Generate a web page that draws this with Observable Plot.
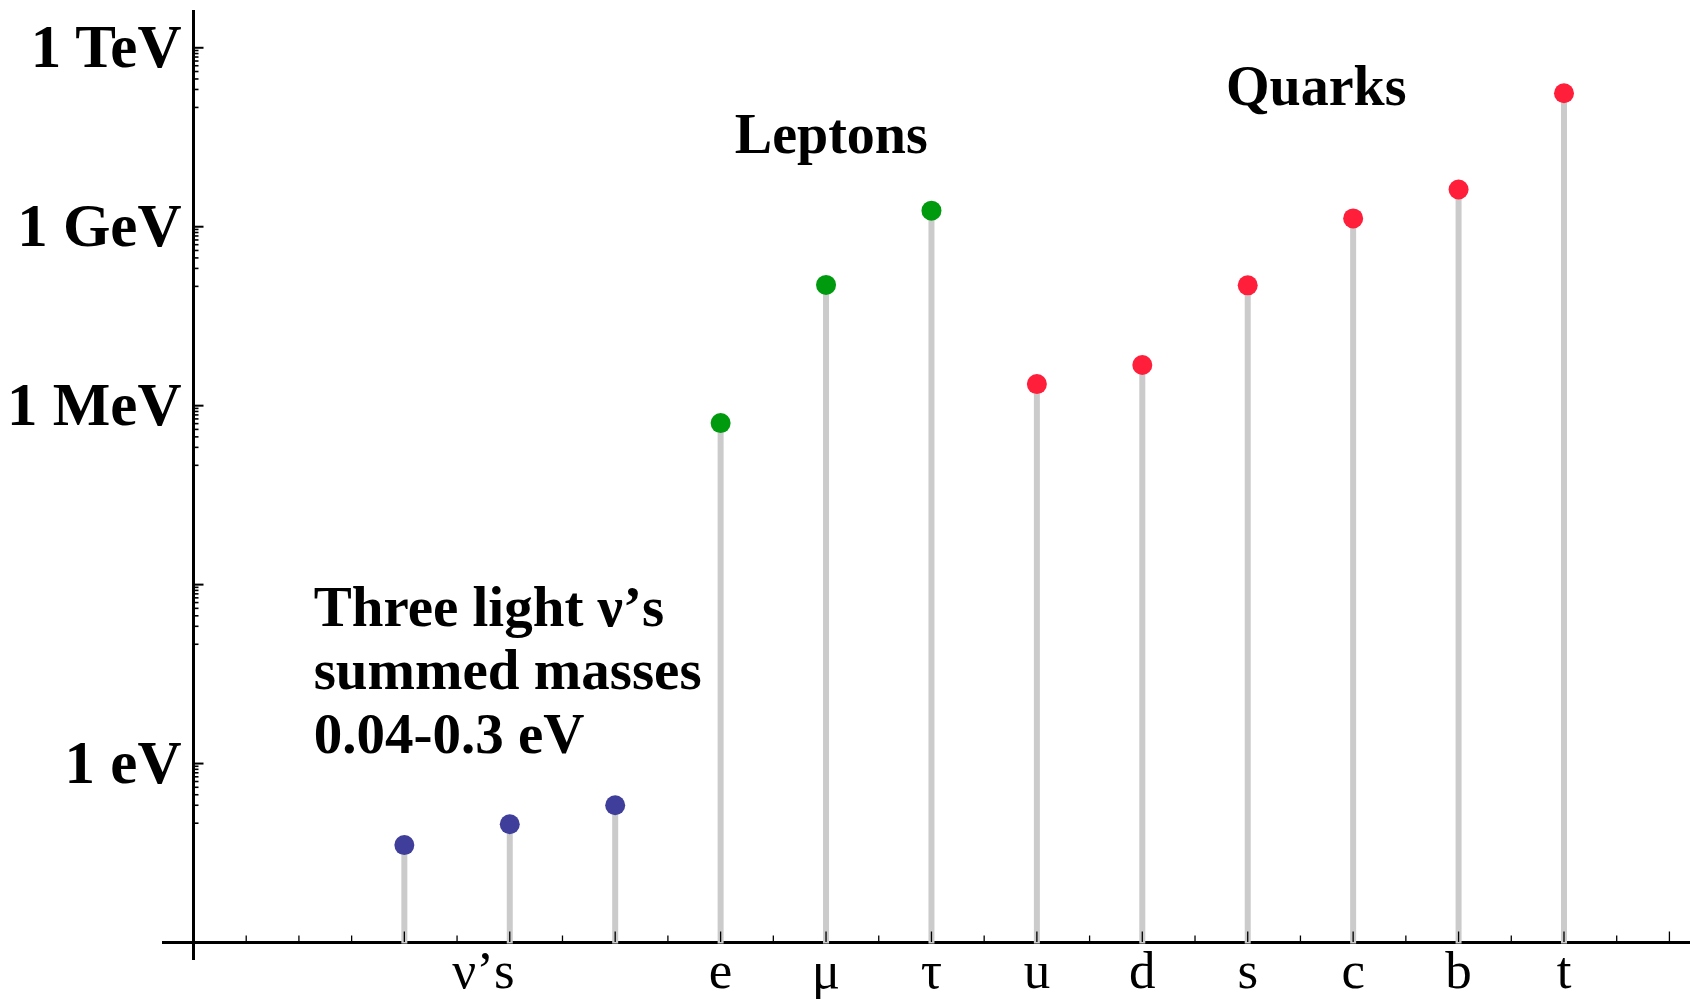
<!DOCTYPE html>
<html>
<head>
<meta charset="utf-8">
<script src="https://cdn.jsdelivr.net/npm/d3@7"></script>
<script src="https://cdn.jsdelivr.net/npm/@observablehq/plot@0.6"></script>
<style>
  html, body { margin: 0; padding: 0; background: #fff; }
  svg { display: block; }
</style>
</head>
<body>
<div id="chart"></div>
<script>
// Masses of the fundamental fermions on a logarithmic energy scale (eV).
const particles = ["ν1", "ν2", "ν3", "e", "μ", "τ", "u", "d", "s", "c", "b", "t"];
const slots     = [2, 3, 4, 5, 6, 7, 8, 9, 10, 11, 12, 13];
const massesEV  = [0.043, 0.096, 0.2, 0.511e6, 105.7e6, 1.86e9, 2.3e6, 4.8e6, 1.04e8, 1.38e9, 4.2e9, 1.73e11];
const families  = ["neutrino", "neutrino", "neutrino", "lepton", "lepton", "lepton",
                   "quark", "quark", "quark", "quark", "quark", "quark"];
const familyNames  = ["neutrino", "lepton", "quark"];
const familyColors = ["#3f3f9b", "#009a0f", "#ff1f3b"];

// Category labels under the horizontal axis
const xTickLabels     = ["ν’s", "e", "μ", "τ", "u", "d", "s", "c", "b", "t"];
const xTickLabelSlots = [2.75, 5, 6, 7, 8, 9, 10, 11, 12, 13];
const xLongTicks  = [2, 3, 4, 5, 6, 7, 8, 9, 10, 11, 12, 13, 14];
const xShortTicks = [0.5, 1, 1.5, 2.5, 3.5, 4.5, 5.5, 6.5, 7.5, 8.5, 9.5, 10.5, 11.5, 12.5, 13.5];

// Energy axis
const yTickLabels      = ["1 eV", "1 MeV", "1 GeV", "1 TeV"];
const yTickLabelValues = [1, 1e6, 1e9, 1e12];
const yMajorTicks      = [1, 1e3, 1e6, 1e9, 1e12];
const yMinorTicks = yMajorTicks.flatMap(m => d3.range(1, 10).map(k => m * k / 10));

// Annotations
const neutrinoNote = "Three light ν’s\nsummed masses\n0.04-0.3 eV";
const groupHeads       = ["Leptons", "Quarks"];
const groupHeadSlots   = [6.05, 10.65];
const groupHeadEnergy  = [1.7e10, 1.1e11];

// Layout
const width = 1690, height = 1000;
const marginLeft = 193, marginRight = 0, marginTop = 10, marginBottom = 58;
const xMax = 14.2;
const yMin = 1e-3, yMax = 10 ** 12.625;
const pxPerSlot = (width - marginLeft - marginRight) / xMax;
const pxPerDecade = (height - marginTop - marginBottom) / Math.log10(yMax / yMin);
const aboveFloor = px => yMin * 10 ** (px / pxPerDecade);
const belowFloor = px => yMin / 10 ** (px / pxPerDecade);
const slotsOf = px => px / pxPerSlot;

const fermions = particles.map((p, i) => ({
  particle: p, slot: slots[i], mass: massesEV[i], family: families[i]
}));

const serif = "'Liberation Serif', 'Times New Roman', serif";

const chart = Plot.plot({
  width, height,
  marginLeft, marginRight, marginTop, marginBottom,
  style: {fontFamily: serif, background: "#fff", overflow: "visible"},
  x: {domain: [0, xMax], axis: null},
  y: {type: "log", domain: [yMin, yMax], axis: null},
  color: {domain: familyNames, range: familyColors},
  marks: [
    // horizontal axis line
    Plot.ruleY([yMin], {x1: -slotsOf(31), x2: xMax, stroke: "#000", strokeWidth: 3}),
    // stems
    Plot.ruleX(fermions, {x: "slot", y1: belowFloor(1.5), y2: "mass", stroke: "#cbcbcb", strokeWidth: 6}),
    // vertical axis line
    Plot.ruleX([0], {y1: belowFloor(18), y2: yMax, stroke: "#000", strokeWidth: 3}),
    // ticks on the horizontal axis
    Plot.ruleX(xLongTicks, {x: d => d, y1: yMin, y2: aboveFloor(10.5), stroke: "#000", strokeWidth: 1.3}),
    Plot.ruleX(xShortTicks, {x: d => d, y1: yMin, y2: aboveFloor(6.5), stroke: "#000", strokeWidth: 1.3}),
    // ticks on the energy axis
    Plot.ruleY(yMajorTicks, {y: d => d, x1: 0, x2: slotsOf(10.5), stroke: "#000", strokeWidth: 2}),
    Plot.ruleY(yMinorTicks, {y: d => d, x1: 0, x2: slotsOf(5.5), stroke: "#000", strokeWidth: 1.6}),
    // masses
    Plot.dot(fermions, {x: "slot", y: "mass", r: 10, fill: "family", stroke: null}),
    // energy labels
    Plot.axisY({
      ticks: yTickLabelValues,
      tickFormat: d => yTickLabels[yTickLabelValues.indexOf(d)],
      anchor: "left", tickSize: 0, tickPadding: 12, label: null,
      fontSize: 61, fontWeight: "bold"
    }),
    // category labels
    Plot.text(xTickLabels, {
      x: (d, i) => xTickLabelSlots[i], text: d => d,
      frameAnchor: "bottom", lineAnchor: "bottom", dy: 45, fontSize: 53
    }),
    // group headings
    Plot.text(groupHeads, {
      x: (d, i) => groupHeadSlots[i], y: (d, i) => groupHeadEnergy[i], text: d => d,
      textAnchor: "middle", lineAnchor: "bottom", fontSize: 56, fontWeight: "bold"
    }),
    // neutrino note
    Plot.text([neutrinoNote], {
      x: () => 1.14, y: () => 1.53, text: d => d,
      textAnchor: "start", lineAnchor: "bottom", lineHeight: 1.114,
      fontSize: 57, fontWeight: "bold"
    })
  ]
});

document.getElementById("chart").append(chart);
</script>
</body>
</html>
